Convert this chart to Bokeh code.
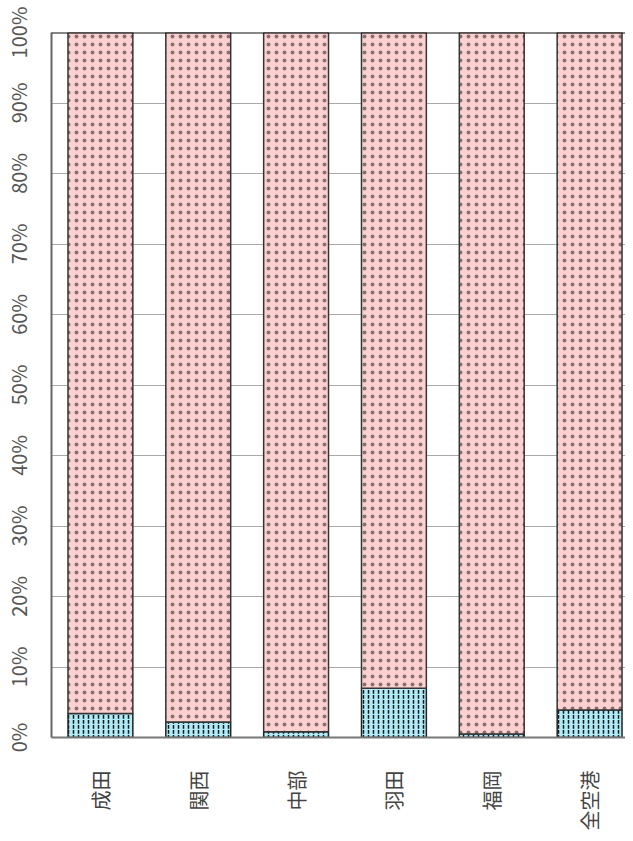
from bokeh.plotting import figure
from bokeh.models import Range1d, FixedTicker, Span, ColumnDataSource
from bokeh.embed import file_html
from bokeh.resources import INLINE

categories = ["成田", "関西", "中部", "羽田", "福岡", "全空港"]
share_a = [3.4, 2.2, 0.8, 7.0, 0.5, 3.9]          # bottom (blue) segment, %
share_b = [100 - v for v in share_a]               # top (pink) segment, %
y_ticks = [0, 10, 20, 30, 40, 50, 60, 70, 80, 90, 100]

xs = [i + 0.5 for i in range(len(categories))]
src = ColumnDataSource(dict(x=xs, top_a=share_a,
                            top_b=[a + b for a, b in zip(share_a, share_b)]))

p = figure(width=625, height=833, output_backend="svg", toolbar_location=None,
           x_range=Range1d(0, 5.867), y_range=Range1d(0, 100))
p.min_border_left = 50
p.min_border_top = 32
p.min_border_right = 0
p.min_border_bottom = 94
p.outline_line_color = None

W = 0.663
p.vbar(x="x", bottom=0, top="top_a", width=W, source=src,
       fill_color="#b0ecf8", line_color="#222222", line_width=1.5,
       hatch_pattern="vertical_dash", hatch_scale=5, hatch_color="#000000",
       hatch_weight=1.5, hatch_alpha=0.9)
p.vbar(x="x", bottom="top_a", top="top_b", width=W, source=src,
       fill_color="#ffd0d0", line_color="#333333", line_width=1.5,
       hatch_pattern="dot", hatch_scale=8, hatch_color="#222222",
       hatch_weight=0, hatch_alpha=0.55)

p.add_layout(Span(location=100, dimension="width", line_color="#111111", line_width=2))

# grid
p.xgrid.grid_line_color = None
p.ygrid.ticker = FixedTicker(ticks=y_ticks)
p.ygrid.grid_line_color = "#aaaaaa"
p.ygrid.grid_line_width = 1
p.ygrid.level = "underlay"

# y axis
ya = p.yaxis[0]
ya.ticker = FixedTicker(ticks=y_ticks)
ya.major_label_overrides = {t: f"{t}%" for t in y_ticks}
ya.major_label_orientation = "parallel"
ya.major_label_text_font = "Noto Sans CJK JP"
ya.major_label_text_font_size = "20px"
ya.major_label_text_color = "#555555"
ya.major_tick_out = 0
ya.major_tick_in = 0
ya.minor_tick_out = 0
ya.minor_tick_in = 0
ya.major_label_standoff = 19
ya.axis_line_color = "#666666"
ya.axis_line_width = 2

# x axis
xa = p.xaxis[0]
xa.ticker = FixedTicker(ticks=xs)
xa.major_label_overrides = {x: c for x, c in zip(xs, categories)}
xa.major_label_orientation = 1.5707963267948966
xa.major_label_text_font = "Noto Sans CJK JP"
xa.major_label_text_font_size = "20px"
xa.major_label_text_color = "#444444"
xa.major_tick_out = 0
xa.major_tick_in = 0
xa.minor_tick_out = 0
xa.minor_tick_in = 0
xa.major_label_standoff = 33
xa.axis_line_color = "#777777"
xa.axis_line_width = 2

open("out.html", "w").write(file_html(p, INLINE))
